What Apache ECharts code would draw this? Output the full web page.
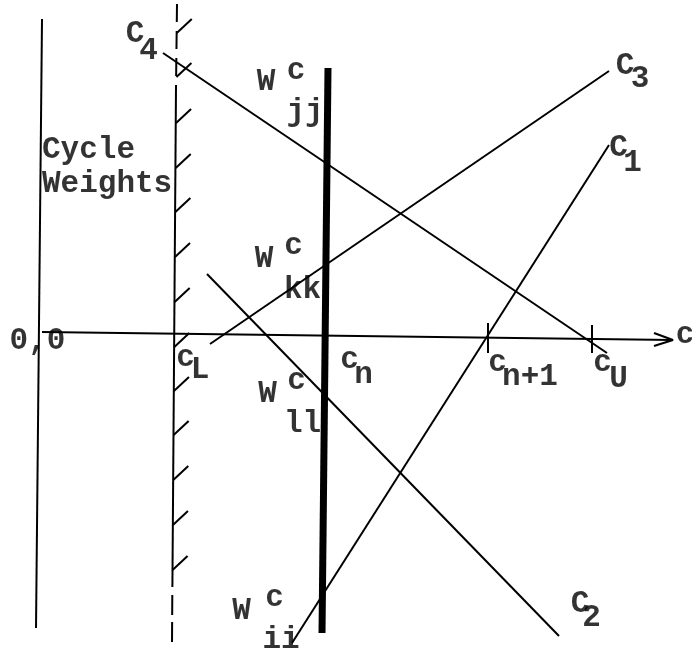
<!DOCTYPE html>
<html>
<head>
<meta charset="utf-8">
<script src="https://cdn.jsdelivr.net/npm/echarts@6/dist/echarts.min.js"></script>
<style>
  html, body { margin: 0; padding: 0; background: #fff; }
  #chart { width: 692px; height: 655px; }
</style>
</head>
<body>
<div id="chart"></div>
<script>
// Coordinate frame: c (cycles) to the right, cycle weight upwards, origin at "0,0".

// Axes
const weightAxisLine = [[2, 315], [-4, -294]];
const cAxisLine = [[2, 2], [633, -6]];
const cAxisArrow = [[614, 1], [633, -6], [614, -12]];

// Lower bound c_L: dashed top part, solid hatched middle, dashed bottom part
const lowerBoundTop = [[137, 330], [136, 247]];
const lowerBoundMid = [[136, 247], [132.4, -253]];
const lowerBoundBottom = [[132.3, -261], [132, -309]];
const hatchLevels = [301, 257, 211, 166, 122, 77, 32, -13, -57, -101, -146, -191, -236];

// Current cycle c_n
const currentCycle = [[288, 266], [282, -299]];

// Tick marks on the c axis: [c, top, bottom] for c_{n+1} and c_U
const cTicks = [[448, 11, -19], [552, 9, -19]];

// Cycle-weight lines
const curveC1 = [[569, 189], [252, -309]];
const curveC2 = [[167, 60], [519, -302]];
const curveC3 = [[170, -10], [569, 263]];
const curveC4 = [[123, 281], [567, -19]];

// Annotation texts and where they sit in the frame
const labelTexts = [
  'C', '4', 'Cycle', 'Weights',
  'W', 'c', 'jj',
  'W', 'c', 'kk',
  'W', 'c', 'll',
  'W', 'c', 'ii',
  'c', 'L', 'c', 'n', 'c', 'n+1', 'c', 'U', 'c', '0,0',
  'C', '3', 'C', '1', 'C', '2'
];
const labelAnchors = [
  [95, 300], [108.5, 283], [2, 184], [2, 150],
  [226, 252], [256, 263], [265, 222],
  [224, 75], [253.5, 88], [262.5, 44],
  [227.5, -60], [256.5, -47], [262.5, -90],
  [201.5, -277], [234.5, -264], [241, -306],
  [145.5, -24], [160, -36], [309.5, -26], [323.5, -41], [457.5, -29], [490, -43],
  [562.5, -29], [578.5, -45], [645, -1], [-2.5, -7],
  [585, 268], [600, 255], [578.5, 186], [592.5, 171], [540, -270], [551.5, -284]
];
const leftAligned = ['Cycle', 'Weights'];

const INK = '#000';

function stroke(points, width, type) {
  return {
    type: 'line',
    data: points,
    symbol: 'none',
    silent: true,
    animation: false,
    lineStyle: { color: INK, width: width, type: type || 'solid', cap: 'butt' }
  };
}

const series = [];
series.push(stroke(weightAxisLine, 2));
series.push(stroke(cAxisLine, 2));
series.push(stroke(cAxisArrow, 2));

// c_L boundary
series.push(stroke(lowerBoundTop, 2, [18, 9]));
series.push(stroke(lowerBoundMid, 2));
series.push(stroke(lowerBoundBottom, 2, [20, 7]));

// hatching on the c_L boundary
const boundA = lowerBoundTop[0], boundB = lowerBoundBottom[1];
hatchLevels.forEach(function (w) {
  const c = boundA[0] + (w - boundA[1]) * (boundB[0] - boundA[0]) / (boundB[1] - boundA[1]);
  series.push(stroke([[c, w], [c + 15, w + 14]], 2));
});

series.push(stroke(currentCycle, 7));

cTicks.forEach(function (t) {
  series.push(stroke([[t[0], t[1]], [t[0], t[2]]], 2));
});

[curveC1, curveC2, curveC3, curveC4].forEach(function (c) {
  series.push(stroke(c, 2));
});

// annotation texts
series.push({
  type: 'scatter',
  symbolSize: 0,
  silent: true,
  animation: false,
  data: labelTexts.map(function (t, i) {
    const item = { name: t, value: labelAnchors[i] };
    if (leftAligned.indexOf(t) >= 0) item.label = { align: 'left' };
    return item;
  }),
  label: {
    show: true,
    position: 'inside',
    formatter: '{b}',
    align: 'center',
    verticalAlign: 'middle',
    color: INK,
    fontFamily: 'Liberation Mono',
    fontWeight: 'bold',
    fontSize: 31
  }
});

const chart = echarts.init(document.getElementById('chart'), null, { renderer: 'canvas' });
chart.setOption({
  backgroundColor: '#fff',
  animation: false,
  grid: { left: 0, right: 0, top: 0, bottom: 0 },
  xAxis: { type: 'value', min: -40, max: 652, show: false },
  yAxis: { type: 'value', min: -321, max: 334, show: false },
  series: series
});
</script>
</body>
</html>
